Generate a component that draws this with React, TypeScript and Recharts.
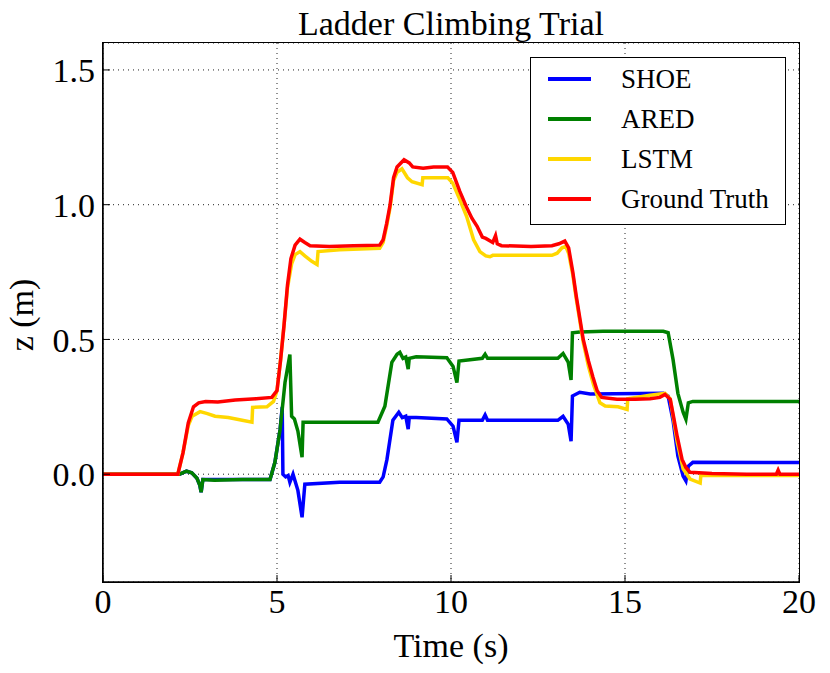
import React from 'react'
import { LineChart, Line, XAxis, YAxis, CartesianGrid } from 'recharts'

// time (s) / height (m), one pair of arrays per method
const gtT = [0, 2.15, 2.3, 2.45, 2.6, 2.75, 2.95, 3.3, 3.8, 4.4, 4.85, 5.0, 5.1, 5.2, 5.3, 5.4, 5.52, 5.66, 5.8, 5.95, 6.5, 7.2, 7.95, 8.05, 8.15, 8.25, 8.35, 8.45, 8.65, 8.8, 8.9, 9.2, 9.5, 9.9, 10.05, 10.25, 10.45, 10.6, 10.75, 10.9, 11.0, 11.2, 11.28, 11.33, 11.45, 12.3, 12.9, 13.1, 13.27, 13.38, 13.5, 13.6, 13.7, 13.8, 13.95, 14.08, 14.2, 14.33, 14.77, 15.3, 15.72, 16.0, 16.15, 16.3, 16.4, 16.5, 16.64, 16.75, 16.87, 17.5, 18.5, 19.35, 19.4, 19.45, 20]
const gtZ = [0, 0, 0.08, 0.19, 0.25, 0.265, 0.27, 0.268, 0.275, 0.28, 0.285, 0.31, 0.42, 0.55, 0.7, 0.8, 0.85, 0.872, 0.86, 0.848, 0.845, 0.848, 0.85, 0.87, 0.93, 1.0, 1.1, 1.14, 1.167, 1.155, 1.14, 1.135, 1.14, 1.14, 1.12, 1.05, 0.99, 0.95, 0.92, 0.88, 0.875, 0.86, 0.885, 0.855, 0.848, 0.845, 0.848, 0.855, 0.865, 0.84, 0.75, 0.66, 0.58, 0.5, 0.42, 0.36, 0.31, 0.285, 0.278, 0.278, 0.28, 0.285, 0.296, 0.278, 0.21, 0.14, 0.055, 0.025, 0.007, 0.003, 0, 0, 0.015, 0, 0]

const lstmT = [0, 2.15, 2.3, 2.45, 2.56, 2.79, 3.0, 3.22, 3.6, 4.0, 4.28, 4.3, 4.71, 4.9, 5.0, 5.1, 5.2, 5.3, 5.42, 5.52, 5.66, 5.8, 6.0, 6.15, 6.18, 6.8, 7.95, 8.05, 8.15, 8.25, 8.35, 8.45, 8.59, 8.75, 8.88, 9.17, 9.19, 9.91, 10.05, 10.25, 10.45, 10.65, 10.83, 11.0, 11.12, 11.2, 12.9, 13.05, 13.19, 13.3, 13.38, 13.5, 13.6, 13.7, 13.8, 13.95, 14.1, 14.28, 14.43, 14.8, 15.06, 15.08, 15.72, 16.15, 16.3, 16.4, 16.5, 16.67, 16.87, 17.16, 17.18, 20]
const lstmZ = [0, 0, 0.08, 0.18, 0.215, 0.232, 0.225, 0.215, 0.21, 0.2, 0.193, 0.248, 0.25, 0.27, 0.31, 0.42, 0.55, 0.69, 0.78, 0.815, 0.826, 0.81, 0.79, 0.778, 0.826, 0.833, 0.838, 0.86, 0.92, 0.99, 1.09, 1.12, 1.133, 1.1, 1.085, 1.074, 1.1, 1.1, 1.08, 1.02, 0.956, 0.87, 0.826, 0.81, 0.807, 0.812, 0.812, 0.82, 0.84, 0.845, 0.82, 0.74, 0.65, 0.57, 0.49, 0.4, 0.33, 0.265, 0.253, 0.25, 0.24, 0.28, 0.293, 0.3, 0.28, 0.2, 0.12, 0.02, -0.018, -0.033, -0.005, -0.005]

const aredT = [0, 2.2, 2.4, 2.55, 2.7, 2.78, 2.82, 2.87, 3.2, 4.0, 4.8, 4.94, 5.09, 5.23, 5.37, 5.42, 5.5, 5.6, 5.72, 5.75, 6.8, 7.9, 8.1, 8.3, 8.45, 8.53, 8.62, 8.7, 8.77, 8.8, 9.0, 9.88, 10.06, 10.17, 10.23, 10.9, 10.98, 11.05, 13.07, 13.22, 13.37, 13.45, 13.49, 13.7, 14.37, 16.1, 16.24, 16.38, 16.52, 16.67, 16.75, 16.82, 16.95, 20]
const aredZ = [0, 0, 0.011, 0.005, -0.015, -0.04, -0.067, -0.02, -0.022, -0.02, -0.02, 0.044, 0.167, 0.34, 0.444, 0.215, 0.205, 0.16, 0.063, 0.193, 0.193, 0.193, 0.252, 0.415, 0.445, 0.452, 0.43, 0.435, 0.39, 0.43, 0.436, 0.432, 0.4, 0.34, 0.42, 0.43, 0.445, 0.43, 0.43, 0.448, 0.415, 0.35, 0.525, 0.528, 0.53, 0.53, 0.525, 0.426, 0.3, 0.23, 0.204, 0.265, 0.27, 0.27]

const shoeT = [0, 2.2, 2.4, 2.55, 2.7, 2.78, 2.82, 2.87, 4.8, 4.94, 5.09, 5.15, 5.17, 5.25, 5.32, 5.37, 5.46, 5.6, 5.72, 5.8, 6.8, 7.95, 8.05, 8.16, 8.33, 8.5, 8.6, 8.7, 8.77, 8.8, 9.0, 9.88, 10.06, 10.17, 10.23, 10.9, 10.98, 11.05, 13.07, 13.22, 13.37, 13.45, 13.49, 13.7, 14.0, 16.1, 16.24, 16.38, 16.52, 16.67, 16.75, 16.82, 16.95, 20]
const shoeZ = [0, 0, 0.011, 0.005, -0.015, -0.04, -0.067, -0.02, -0.02, 0.044, 0.167, 0.25, 0, -0.01, -0.005, -0.03, 0, -0.06, -0.16, -0.037, -0.03, -0.03, -0.01, 0.055, 0.2, 0.23, 0.21, 0.215, 0.167, 0.21, 0.21, 0.205, 0.178, 0.118, 0.2, 0.2, 0.22, 0.2, 0.2, 0.215, 0.185, 0.122, 0.29, 0.304, 0.298, 0.3, 0.29, 0.2, 0.067, -0.007, -0.025, 0.03, 0.044, 0.043]

const xTicks = [0, 5, 10, 15, 20]
const yTicks = [0, 0.5, 1.0, 1.5]

const series = [
  { name: 'SHOE', color: '#0000ff', t: shoeT, z: shoeZ },
  { name: 'ARED', color: '#008000', t: aredT, z: aredZ },
  { name: 'LSTM', color: '#ffd700', t: lstmT, z: lstmZ },
  { name: 'Ground Truth', color: '#ff0000', t: gtT, z: gtZ },
]

const serif = '"Liberation Serif", "DejaVu Serif", serif'
const tickStyle = { fontSize: 34, fontFamily: serif, fill: '#000' }

export default function App() {
  return (
    <div style={{ position: 'absolute', left: 0, top: 0, width: 830, height: 673, background: '#fff', fontFamily: serif }}>
      <LineChart width={830} height={673} margin={{ top: 43, right: 31, bottom: 61, left: 43 }}>
        <CartesianGrid stroke="#222" strokeDasharray="1 4" strokeWidth={1} />
        <XAxis
          type="number"
          dataKey="t"
          domain={[0, 20]}
          ticks={xTicks}
          height={30}
          tickSize={-7}
          tickMargin={14}
          tick={tickStyle}
          axisLine={{ stroke: '#000', strokeWidth: 1.5 }}
          tickLine={{ stroke: '#000' }}
          allowDuplicatedCategory={false}
        />
        <YAxis
          type="number"
          domain={[-0.4, 1.6]}
          ticks={yTicks}
          width={60}
          tickSize={-7}
          tickMargin={15}
          tick={tickStyle}
          tickFormatter={(v: number) => v.toFixed(1)}
          axisLine={{ stroke: '#000', strokeWidth: 1.5 }}
          tickLine={{ stroke: '#000' }}
          allowDataOverflow
        />
        {series.map((s) => (
          <Line
            key={s.name}
            name={s.name}
            data={s.t.map((t, i) => ({ t, z: s.z[i] }))}
            dataKey="z"
            type="linear"
            stroke={s.color}
            strokeWidth={3.5}
            dot={false}
            activeDot={false}
            isAnimationActive={false}
          />
        ))}
      </LineChart>

      {/* plot frame */}
      <div
        style={{
          position: 'absolute',
          left: 102,
          top: 42,
          width: 698,
          height: 541,
          boxSizing: 'border-box',
          border: '1.5px solid #000',
          pointerEvents: 'none',
        }}
      />

      <div style={{ position: 'absolute', left: 0, width: 830, top: 4, textAlign: 'center', fontSize: 34, lineHeight: '40px' }}>
        <span style={{ position: 'relative', left: 36 }}>Ladder Climbing Trial</span>
      </div>
      <div style={{ position: 'absolute', left: 103, width: 696, top: 626, textAlign: 'center', fontSize: 34, lineHeight: '40px' }}>
        Time (s)
      </div>
      <div
        style={{
          position: 'absolute',
          left: 22,
          top: 315,
          fontSize: 34,
          lineHeight: '40px',
          whiteSpace: 'nowrap',
          transform: 'translate(-50%, -50%) rotate(-90deg)',
        }}
      >
        z (m)
      </div>

      <div
        style={{
          position: 'absolute',
          left: 530,
          top: 57,
          width: 256,
          height: 168,
          boxSizing: 'border-box',
          border: '1.5px solid #000',
          background: '#fff',
        }}
      >
        {series.map((s, i) => (
          <div key={s.name} style={{ position: 'absolute', left: 0, top: 21 + i * 40 - 20, height: 40, display: 'flex', alignItems: 'center' }}>
            <div style={{ marginLeft: 17, width: 43, height: 3.5, background: s.color }} />
            <span style={{ marginLeft: 30, fontSize: 27, whiteSpace: 'nowrap' }}>{s.name}</span>
          </div>
        ))}
      </div>
    </div>
  )
}
